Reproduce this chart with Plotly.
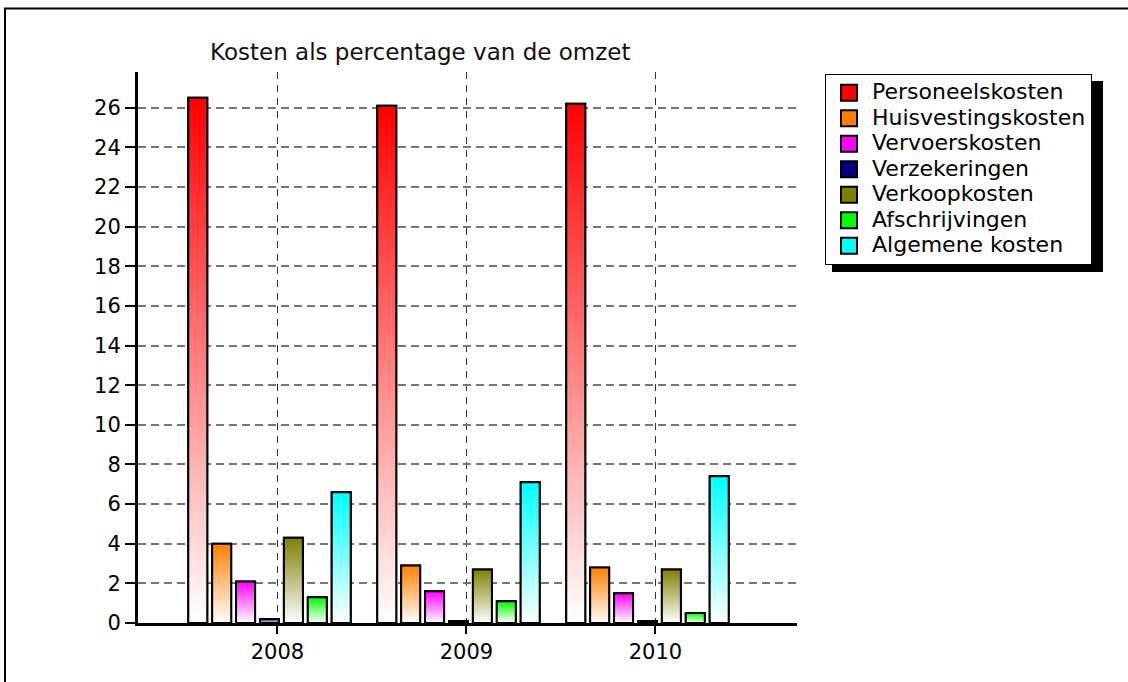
import plotly.graph_objects as go

# ---- data ----
years = ["2008", "2009", "2010"]
series_names = ["Personeelskosten", "Huisvestingskosten", "Vervoerskosten",
                "Verzekeringen", "Verkoopkosten", "Afschrijvingen", "Algemene kosten"]
personeelskosten = [26.5, 26.1, 26.2]
huisvestingskosten = [4.0, 2.9, 2.8]
vervoerskosten = [2.1, 1.6, 1.5]
verzekeringen = [0.2, 0.1, 0.1]
verkoopkosten = [4.3, 2.7, 2.7]
afschrijvingen = [1.3, 1.1, 0.5]
algemene_kosten = [6.6, 7.1, 7.4]
series_values = [personeelskosten, huisvestingskosten, vervoerskosten, verzekeringen,
                 verkoopkosten, afschrijvingen, algemene_kosten]
colors = ["#ff0000", "#ff8000", "#ff00ff", "#000080", "#808000", "#00ff00", "#00ffff"]
y_ticks = list(range(0, 27, 2))
title_text = "Kosten als percentage van de omzet"

# ---- style ----
FONT = "DejaVu Sans"
W, H = 1128, 682
ML, MR, MT, MB = 138, W - 797, 72, H - 623
SLOT = 0.1265      # spacing between bars within a group (category units)
BW = 0.1005        # bar width
OFF0 = -0.472      # offset of first bar relative to category centre
LEGEND_TEXT_PX = 22

cat_pos = list(range(len(years)))

fig = go.Figure()

for k, (name, vals, col) in enumerate(zip(series_names, series_values, colors)):
    off = OFF0 + k * SLOT
    fig.add_trace(go.Bar(
        x=cat_pos, y=vals, name=name, offset=off, width=BW,
        marker=dict(color=col, line=dict(color="black", width=2)),
        showlegend=False,
    ))
    # gradient overlay for each bar (colour at top fading to white at the bottom)
    for i, v in zip(cat_pos, vals):
        x0 = i + off
        x1 = x0 + BW
        fig.add_trace(go.Scatter(
            x=[x0, x1, x1, x0, x0], y=[0, 0, v, v, 0],
            mode="lines", fill="toself",
            fillgradient=dict(type="vertical", colorscale=[[0, "white"], [1, col]],
                              start=0, stop=v),
            line=dict(color="black", width=2),
            hoverinfo="skip", showlegend=False,
        ))
    # legend entry
    fig.add_trace(go.Scatter(
        x=[None], y=[None], mode="markers",
        name=f'<span style="font-size:{LEGEND_TEXT_PX}px">{name}</span>',
        marker=dict(symbol="square", size=16, color=col, line=dict(color="black", width=2)),
        showlegend=True,
    ))

def px_to_paper_x(px):
    return (px - ML) / (W - ML - MR)

def px_to_paper_y(py):
    return (H - MB - py) / (H - MT - MB)

shapes = [
    # outer frame
    dict(type="rect", xref="paper", yref="paper",
         x0=px_to_paper_x(5), x1=px_to_paper_x(1140),
         y0=px_to_paper_y(700), y1=px_to_paper_y(8.5),
         line=dict(color="black", width=2), fillcolor="rgba(0,0,0,0)", layer="below"),
    # legend shadow
    dict(type="rect", xref="paper", yref="paper",
         x0=px_to_paper_x(832), x1=px_to_paper_x(1103),
         y0=px_to_paper_y(272), y1=px_to_paper_y(81),
         line=dict(width=0), fillcolor="black", layer="above"),
]

fig.update_layout(
    width=W, height=H, autosize=False,
    margin=dict(l=ML, r=MR, t=MT, b=MB, pad=0),
    paper_bgcolor="white", plot_bgcolor="white",
    barmode="overlay",
    font=dict(family=FONT, size=21, color="black"),
    title=dict(text=title_text, xref="container", yref="container",
               x=210 / W, xanchor="left", y=1 - 52 / H, yanchor="middle",
               font=dict(family=FONT, size=23, color="#111111")),
    showlegend=True,
    legend=dict(x=px_to_paper_x(825), y=px_to_paper_y(74), xanchor="left", yanchor="top",
                bgcolor="white", bordercolor="black", borderwidth=1,
                font=dict(family=FONT, size=17.3, color="black"),
                traceorder="normal", itemsizing="trace", itemwidth=36),
    shapes=shapes,
)

fig.update_xaxes(
    range=[-0.738, 2.749], tickmode="array", tickvals=cat_pos, ticktext=years,
    showline=True, linecolor="black", linewidth=3,
    ticks="outside", ticklen=8, tickwidth=2, tickcolor="black",
    showgrid=True, gridcolor="#333333", gridwidth=1.3, griddash="7px,6px",
    zeroline=False, tickfont=dict(family=FONT, size=21, color="black"),
)
fig.update_yaxes(
    range=[0, 27.8], tickmode="array", tickvals=y_ticks,
    showline=True, linecolor="black", linewidth=3,
    ticks="outside", ticklen=10, tickwidth=2, tickcolor="black",
    showgrid=True, gridcolor="#777777", gridwidth=2, griddash="8px,5px",
    zeroline=False, tickfont=dict(family=FONT, size=21, color="black"),
)

fig.write_html("out.html", config={"displayModeBar": False},
               post_script="document.body.style.margin='0';document.body.style.overflow='hidden';")
